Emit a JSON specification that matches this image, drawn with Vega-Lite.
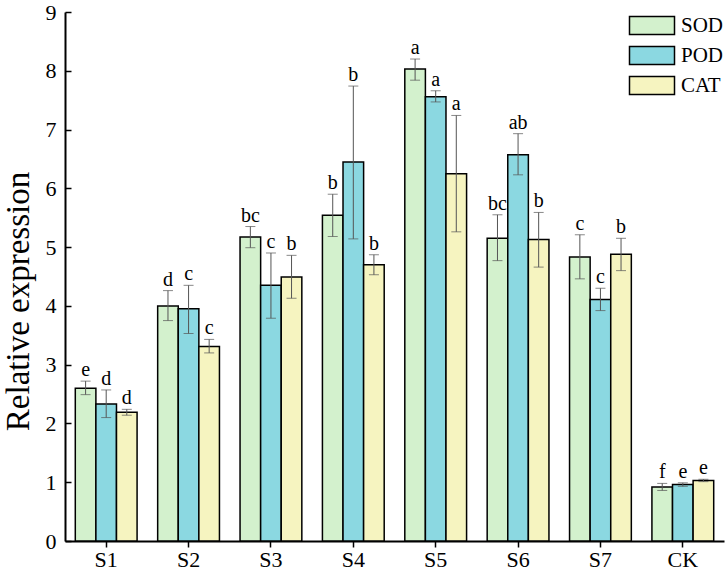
{
  "$schema": "https://vega.github.io/schema/vega-lite/v6.json",
  "width": 659,
  "height": 529,
  "autosize": {"type": "none"},
  "padding": {"left": 65, "top": 12, "right": 2, "bottom": 31},
  "background": "white",
  "config": {
    "view": {"stroke": null},
    "font": "Liberation Serif",
    "axis": {
      "labelFont": "Liberation Serif",
      "titleFont": "Liberation Serif",
      "labelColor": "black",
      "titleColor": "black",
      "domainColor": "black",
      "tickColor": "black",
      "domainWidth": 2,
      "tickWidth": 1.5,
      "grid": false
    },
    "legend": {
      "labelFont": "Liberation Serif",
      "labelColor": "black"
    }
  },
  "data": {
    "values": [
      {"group": "S1", "enzyme": "SOD", "value": 2.60, "low": 2.49, "high": 2.72, "letter": "e"},
      {"group": "S1", "enzyme": "POD", "value": 2.33, "low": 2.10, "high": 2.57, "letter": "d"},
      {"group": "S1", "enzyme": "CAT", "value": 2.19, "low": 2.14, "high": 2.24, "letter": "d"},
      {"group": "S2", "enzyme": "SOD", "value": 4.00, "low": 3.75, "high": 4.26, "letter": "d"},
      {"group": "S2", "enzyme": "POD", "value": 3.95, "low": 3.53, "high": 4.35, "letter": "c"},
      {"group": "S2", "enzyme": "CAT", "value": 3.31, "low": 3.20, "high": 3.43, "letter": "c"},
      {"group": "S3", "enzyme": "SOD", "value": 5.17, "low": 4.99, "high": 5.35, "letter": "bc"},
      {"group": "S3", "enzyme": "POD", "value": 4.35, "low": 3.79, "high": 4.90, "letter": "c"},
      {"group": "S3", "enzyme": "CAT", "value": 4.49, "low": 4.13, "high": 4.86, "letter": "b"},
      {"group": "S4", "enzyme": "SOD", "value": 5.54, "low": 5.18, "high": 5.90, "letter": "b"},
      {"group": "S4", "enzyme": "POD", "value": 6.45, "low": 5.14, "high": 7.74, "letter": "b"},
      {"group": "S4", "enzyme": "CAT", "value": 4.70, "low": 4.53, "high": 4.87, "letter": "b"},
      {"group": "S5", "enzyme": "SOD", "value": 8.03, "low": 7.84, "high": 8.20, "letter": "a"},
      {"group": "S5", "enzyme": "POD", "value": 7.56, "low": 7.47, "high": 7.66, "letter": "a"},
      {"group": "S5", "enzyme": "CAT", "value": 6.25, "low": 5.26, "high": 7.24, "letter": "a"},
      {"group": "S6", "enzyme": "SOD", "value": 5.15, "low": 4.77, "high": 5.55, "letter": "bc"},
      {"group": "S6", "enzyme": "POD", "value": 6.57, "low": 6.23, "high": 6.93, "letter": "ab"},
      {"group": "S6", "enzyme": "CAT", "value": 5.13, "low": 4.66, "high": 5.59, "letter": "b"},
      {"group": "S7", "enzyme": "SOD", "value": 4.83, "low": 4.46, "high": 5.21, "letter": "c"},
      {"group": "S7", "enzyme": "POD", "value": 4.11, "low": 3.92, "high": 4.30, "letter": "c"},
      {"group": "S7", "enzyme": "CAT", "value": 4.88, "low": 4.60, "high": 5.15, "letter": "b"},
      {"group": "CK", "enzyme": "SOD", "value": 0.92, "low": 0.86, "high": 0.98, "letter": "f"},
      {"group": "CK", "enzyme": "POD", "value": 0.96, "low": 0.93, "high": 0.99, "letter": "e"},
      {"group": "CK", "enzyme": "CAT", "value": 1.03, "low": 1.01, "high": 1.05, "letter": "e"}
    ]
  },
  "encoding": {
    "x": {
      "field": "group",
      "type": "nominal",
      "sort": ["S1", "S2", "S3", "S4", "S5", "S6", "S7", "CK"],
      "scale": {"paddingInner": 0.25, "paddingOuter": 0.125},
      "axis": {
        "title": null,
        "labelAngle": 0,
        "labelFont": "Liberation Serif",
        "labelFontSize": 22,
        "tickSize": 6,
        "labelPadding": 2
      }
    },
    "xOffset": {
      "field": "enzyme",
      "type": "nominal",
      "sort": ["SOD", "POD", "CAT"],
      "scale": {"paddingInner": 0, "paddingOuter": 0}
    }
  },
  "layer": [
    {
      "mark": {"type": "bar", "stroke": "black", "strokeWidth": 1.5},
      "encoding": {
        "y": {
          "field": "value",
          "type": "quantitative",
          "scale": {"domain": [0, 9], "nice": false},
          "axis": {
            "title": "Relative expression",
            "values": [0, 1, 2, 3, 4, 5, 6, 7, 8, 9],
            "format": "d",
            "labelFont": "Liberation Serif",
            "labelFontSize": 22,
            "tickSize": -6,
            "labelPadding": 15,
            "titleFont": "Liberation Serif",
            "titleFontSize": 33,
            "titleFontWeight": "normal",
            "titleAngle": 270,
            "titleAlign": "center",
            "titleBaseline": "top",
            "titleX": -63,
            "titleY": 289
          }
        },
        "color": {
          "field": "enzyme",
          "type": "nominal",
          "sort": ["SOD", "POD", "CAT"],
          "scale": {
            "domain": ["SOD", "POD", "CAT"],
            "range": ["#d3f1cd", "#8bd8e1", "#f6f4c0"]
          },
          "legend": {
            "title": null,
            "orient": "none",
            "legendX": 576.5,
            "legendY": 3,
            "padding": 0,
            "symbolType": "M-2.5,-1H2.5V1H-2.5Z",
            "symbolSize": 324,
            "symbolStrokeColor": "black",
            "symbolStrokeWidth": 1.5,
            "symbolOpacity": 1,
            "labelFont": "Liberation Serif",
            "labelFontSize": 21,
            "labelOffset": 18.5,
            "rowPadding": 5
          }
        }
      }
    },
    {
      "mark": {"type": "rule", "color": "#555555", "strokeWidth": 1},
      "encoding": {
        "y": {"field": "low", "type": "quantitative"},
        "y2": {"field": "high"}
      }
    },
    {
      "mark": {"type": "tick", "color": "#555555", "size": 10, "thickness": 1},
      "encoding": {
        "y": {"field": "low", "type": "quantitative"}
      }
    },
    {
      "mark": {"type": "tick", "color": "#555555", "size": 10, "thickness": 1},
      "encoding": {
        "y": {"field": "high", "type": "quantitative"}
      }
    },
    {
      "mark": {"type": "text", "font": "Liberation Serif", "fontSize": 20, "baseline": "alphabetic", "dy": -5, "color": "black"},
      "encoding": {
        "y": {"field": "high", "type": "quantitative"},
        "text": {"field": "letter"}
      }
    }
  ]
}
